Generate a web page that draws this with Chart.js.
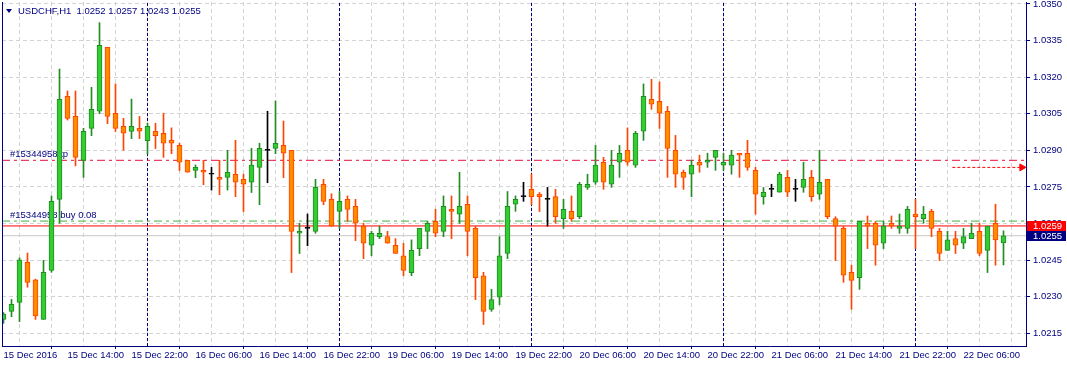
<!DOCTYPE html>
<html><head><meta charset="utf-8">
<script src="https://cdn.jsdelivr.net/npm/chart.js@4/dist/chart.umd.min.js"></script>
<style>html,body{margin:0;padding:0;background:#fff;overflow:hidden}#wrap{width:1067px;height:367px}</style>
</head><body><div id="wrap"><canvas id="c" width="1067" height="367"></canvas></div>
<script>
const symbolTitle = 'USDCHF,H1  1.0252 1.0257 1.0243 1.0255';

const opens = [1.02207,1.02240,1.02277,1.02441,1.02369,1.02207,1.02408,1.02699,1.03121,1.03039,
1.02859,1.02990,1.03060,1.03322,1.03052,1.02998,1.02977,1.02990,1.02940,1.02978,
1.02970,1.02941,1.02920,1.02859,1.02818,1.02818,1.02802,1.02789,1.02789,1.02802,
1.02781,1.02769,1.02830,1.02900,1.02908,1.02920,1.02900,1.02560,1.02580,1.02568,
1.02761,1.02699,1.02650,1.02699,1.02670,1.02589,1.02511,1.02546,1.02546,1.02511,
1.02468,1.02399,1.02497,1.02568,1.02609,1.02568,1.02658,1.02638,1.02679,1.02580,
1.02386,1.02248,1.02298,1.02477,1.02679,1.02710,1.02740,1.02720,1.02699,1.02710,
1.02620,1.02650,1.02628,1.02748,1.02769,1.02851,1.02761,1.02851,1.02900,1.02839,
1.02978,1.03109,1.03101,1.03060,1.02900,1.02810,1.02802,1.02851,1.02851,1.02871,
1.02839,1.02839,1.02888,1.02888,1.02818,1.02710,1.02740,1.02728,1.02789,1.02740,
1.02748,1.02789,1.02720,1.02781,1.02620,1.02580,1.02400,1.02378,1.02601,1.02601,
1.02519,1.02601,1.02580,1.02580,1.02639,1.02620,1.02650,1.02568,1.02490,1.02538,
1.02519,1.02538,1.02568,1.02490,1.02601,1.0252];

const highs = [1.02235,1.02289,1.02459,1.02479,1.02372,1.02449,1.02713,1.03233,1.03143,1.03143,
1.02990,1.03158,1.03423,1.03322,1.03172,1.03031,1.03110,1.03039,1.03011,1.03011,
1.03052,1.02992,1.02929,1.02859,1.02840,1.02859,1.02830,1.02859,1.02900,1.02941,
1.02802,1.02908,1.02929,1.03060,1.03102,1.03020,1.02900,1.02601,1.02639,1.02781,
1.02781,1.02722,1.02731,1.02713,1.02699,1.02601,1.02568,1.02589,1.02568,1.02538,
1.02519,1.02533,1.02580,1.02609,1.02658,1.02713,1.02713,1.02810,1.02713,1.02589,
1.02400,1.02330,1.02546,1.02731,1.02713,1.02769,1.02802,1.02727,1.02748,1.02740,
1.02699,1.02713,1.02769,1.02802,1.02920,1.02871,1.02900,1.02920,1.02992,1.02978,
1.03172,1.03191,1.03180,1.03080,1.02961,1.02819,1.02859,1.02880,1.02888,1.02900,
1.02888,1.02900,1.02888,1.02941,1.02830,1.02748,1.02761,1.02810,1.02818,1.02781,
1.02851,1.02818,1.02900,1.02781,1.02628,1.02589,1.02429,1.02609,1.02631,1.02609,
1.02609,1.02631,1.02639,1.02670,1.02699,1.02670,1.02658,1.02580,1.02568,1.02568,
1.02580,1.02601,1.02601,1.02589,1.02679,1.0257];

const lows = [1.02191,1.02218,1.02198,1.02339,1.02207,1.02207,1.02400,1.02601,1.03024,1.02836,
1.02789,1.02960,1.03050,1.03009,1.02977,1.02900,1.02948,1.02948,1.02884,1.02907,
1.02871,1.02886,1.02817,1.02810,1.02788,1.02759,1.02737,1.02718,1.02737,1.02710,
1.02649,1.02727,1.02677,1.02767,1.02886,1.02788,1.02399,1.02477,1.02509,1.02560,
1.02677,1.02589,1.02580,1.02609,1.02530,1.02456,1.02468,1.02538,1.02519,1.02477,
1.02386,1.02386,1.02468,1.02497,1.02546,1.02546,1.02538,1.02601,1.02468,1.02288,
1.02186,1.02240,1.02267,1.02456,1.02650,1.02691,1.02677,1.02649,1.02589,1.02601,
1.02580,1.02609,1.02620,1.02740,1.02761,1.02740,1.02748,1.02789,1.02839,1.02830,
1.02941,1.03068,1.02990,1.02789,1.02748,1.02740,1.02710,1.02810,1.02830,1.02818,
1.02818,1.02802,1.02789,1.02818,1.02638,1.02679,1.02710,1.02728,1.02710,1.02691,
1.02728,1.02691,1.02699,1.02620,1.02448,1.02359,1.02248,1.02330,1.02497,1.02429,
1.02497,1.02580,1.02560,1.02560,1.02497,1.02601,1.02546,1.02448,1.02490,1.02477,
1.02497,1.02538,1.02468,1.02399,1.02429,1.0243];

const closes = [1.02229,1.02269,1.02451,1.02359,1.02221,1.02400,1.02691,1.03109,1.03031,1.02871,
1.02978,1.03068,1.03330,1.03039,1.02990,1.02970,1.02998,1.02978,1.02998,1.02960,
1.02929,1.02929,1.02851,1.02810,1.02830,1.02810,1.02802,1.02781,1.02810,1.02769,
1.02761,1.02839,1.02908,1.02900,1.02929,1.02888,1.02568,1.02568,1.02580,1.02748,
1.02691,1.02589,1.02691,1.02658,1.02601,1.02519,1.02560,1.02560,1.02519,1.02477,
1.02408,1.02490,1.02580,1.02601,1.02560,1.02670,1.02650,1.02670,1.02568,1.02378,
1.02240,1.02288,1.02468,1.02670,1.02699,1.02710,1.02710,1.02710,1.02699,1.02628,
1.02658,1.02620,1.02761,1.02761,1.02839,1.02769,1.02839,1.02888,1.02851,1.02970,
1.03121,1.03089,1.03052,1.02908,1.02802,1.02789,1.02839,1.02839,1.02859,1.02900,
1.02851,1.02880,1.02880,1.02830,1.02720,1.02728,1.02740,1.02802,1.02728,1.02740,
1.02781,1.02710,1.02769,1.02628,1.02589,1.02388,1.02367,1.02609,1.02589,1.02511,
1.02589,1.02589,1.02589,1.02658,1.02628,1.02639,1.02580,1.02477,1.02533,1.02511,
1.02546,1.02560,1.02477,1.02589,1.02533,1.0255];

const timeLabels = ['15 Dec 2016','15 Dec 14:00','15 Dec 22:00','16 Dec 06:00','16 Dec 14:00','16 Dec 22:00',
'19 Dec 06:00','19 Dec 14:00','19 Dec 22:00','20 Dec 06:00','20 Dec 14:00','20 Dec 22:00',
'21 Dec 06:00','21 Dec 14:00','21 Dec 22:00','22 Dec 06:00'];
const timeLabelBars = [0,8,16,24,32,40,48,56,64,72,80,88,96,104,112,120];
const gridBars = [0,4,8,12,16,20,24,28,32,36,40,44,48,52,56,60,64,68,72,76,80,84,88,92,96,100,104,108,112,116,120,124];
const priceTicks = [1.0215,1.0230,1.0245,1.0260,1.0275,1.0290,1.0305,1.0320,1.0335,1.0350];
const separatorBars = [18,42,66,90,114];

const tpLevel = 1.02859;
const orderLevel = 1.02610;
const askPrice = 1.0259;
const bidPrice = 1.0255;
const arrowLevel = 1.02830;
const arrowFrom = 118.6, arrowTo = 127.3;
const tpText = '#15344958 tp';
const orderText = '#15344958 buy 0.08';

const X_MIN = -0.1875, X_MAX = 127.8125;
const Y_MIN = 1.02098, Y_MAX = 1.035078;

const NAVY = '#000080';
const FONT = 'Liberation Sans';
const FSIZE = 9.5;
const bullFill = '#32cd32', bullEdge = '#228b22';
const bearFill = '#ff8c00', bearEdge = '#ff4500';

const kind = i => closes[i] > opens[i] ? 1 : (closes[i] < opens[i] ? -1 : 0);
const idx = opens.map((_, i) => i);

const wickData = idx.map(i => ({x: i, y: [lows[i], highs[i]]}));
const bodyData = idx.map(i => ({x: i, y: [opens[i], closes[i]]}));

function hLine(level, color, dash, order) {
  return {type: 'line', data: [{x: X_MIN, y: level}, {x: X_MAX, y: level}], borderColor: color,
    borderWidth: 1, borderDash: dash, pointRadius: 0, order: order, fill: false};
}
const sepSets = separatorBars.map(b => ({type: 'line', data: [{x: b, y: Y_MIN}, {x: b, y: Y_MAX}],
  borderColor: NAVY, borderWidth: 1, borderDash: [3, 2], pointRadius: 0, order: 9, fill: false}));

const overlay = {
  id: 'overlay',
  beforeDatasetsDraw(chart) {
    const ctx = chart.ctx, y = chart.scales.y;
    ctx.save();
    ctx.font = FSIZE + 'px "' + FONT + '"';
    ctx.fillStyle = NAVY;
    ctx.textBaseline = 'alphabetic';
    ctx.textAlign = 'left';
    ctx.fillText(tpText, 10, y.getPixelForValue(tpLevel) - 3);
    ctx.fillText(orderText, 10, y.getPixelForValue(orderLevel) - 3);
    ctx.restore();
  },
  afterDraw(chart) {
    const ctx = chart.ctx, y = chart.scales.y, a = chart.chartArea;
    ctx.save();
    ctx.strokeStyle = NAVY; ctx.lineWidth = 1;
    ctx.beginPath(); ctx.moveTo(a.left + 0.5, a.top); ctx.lineTo(a.left + 0.5, a.bottom); ctx.stroke();
    ctx.fillStyle = NAVY;
    ctx.beginPath(); ctx.moveTo(6, 9); ctx.lineTo(12, 9); ctx.lineTo(9, 13); ctx.closePath(); ctx.fill();
    ctx.font = FSIZE + 'px "' + FONT + '"';
    ctx.textBaseline = 'middle'; ctx.textAlign = 'left';
    ctx.fillText(symbolTitle, 18, 11);
    const tag = (val, bg) => {
      const py = Math.round(y.getPixelForValue(val));
      ctx.fillStyle = bg;
      ctx.fillRect(a.right + 1, py - 5, 39, 10);
      ctx.fillStyle = '#ffffff';
      ctx.fillText(val.toFixed(4), a.right + 7, py + 0.5);
    };
    tag(askPrice, '#ff0000');
    tag(bidPrice, NAVY);
    ctx.restore();
  }
};

new Chart(document.getElementById('c'), {
  type: 'bar',
  data: {
    datasets: [
      {type: 'bar', data: bodyData, grouped: false, order: 1, barThickness: 5, minBarLength: 1,
        borderWidth: 1, borderSkipped: false,
        backgroundColor: idx.map(i => kind(i) > 0 ? bullFill : kind(i) < 0 ? bearFill : '#000000'),
        borderColor: idx.map(i => kind(i) > 0 ? bullEdge : kind(i) < 0 ? bearEdge : '#000000')},
      {type: 'bar', data: wickData, grouped: false, order: 2, barThickness: 1, borderWidth: 0,
        backgroundColor: idx.map(i => kind(i) > 0 ? bullEdge : kind(i) < 0 ? bearEdge : '#000000')},
      hLine(tpLevel, '#e8103a', [8, 4, 3, 4], 8),
      hLine(orderLevel, '#3cb43c', [8, 4, 3, 4], 8),
      hLine(askPrice, '#ff0000', [], 8),
      hLine(bidPrice, '#c8c8c8', [], 8),
      {type: 'line', data: [{x: arrowFrom, y: arrowLevel}, {x: arrowTo, y: arrowLevel}], borderColor: '#ff0000',
        borderWidth: 1, borderDash: [3, 2], pointRadius: [0, 4], pointStyle: 'triangle', rotation: 90,
        pointBackgroundColor: '#ff0000', pointBorderColor: '#ff0000', order: 7, fill: false},
      ...sepSets
    ]
  },
  options: {
    responsive: false, animation: false, devicePixelRatio: 1,
    layout: {autoPadding: false, padding: {left: 2, top: 2, right: 0, bottom: 0}},
    plugins: {legend: {display: false}, tooltip: {enabled: false}},
    scales: {
      x: {type: 'linear', min: X_MIN, max: X_MAX, offset: false,
        afterBuildTicks: s => { s.ticks = gridBars.map(v => ({value: v})); },
        afterFit: s => { s.height = 21; s.paddingLeft = 0; s.paddingRight = 0; },
        ticks: {autoSkip: false, maxRotation: 0, minRotation: 0, align: 'start', padding: 1, color: NAVY,
          font: {family: FONT, size: FSIZE},
          callback: v => { const k = timeLabelBars.indexOf(v); return k >= 0 ? timeLabels[k] : ''; }},
        grid: {color: '#d3d3d3', tickLength: 3,
          tickColor: c => (c.tick && timeLabelBars.indexOf(c.tick.value) >= 0) ? NAVY : 'rgba(0,0,0,0)'},
        border: {display: true, color: NAVY, dash: [4, 3]}
      },
      y: {type: 'linear', position: 'right', min: Y_MIN, max: Y_MAX,
        afterBuildTicks: s => { s.ticks = priceTicks.map(v => ({value: v})); },
        afterFit: s => { s.width = 41; s.paddingTop = 0; s.paddingBottom = 0; },
        ticks: {color: NAVY, padding: 3, font: {family: FONT, size: FSIZE}, callback: v => Number(v).toFixed(4)},
        grid: {color: '#d3d3d3', tickLength: 4, tickColor: NAVY},
        border: {display: true, color: NAVY, dash: [4, 3]}
      }
    }
  },
  plugins: [overlay]
});
</script></body></html>
